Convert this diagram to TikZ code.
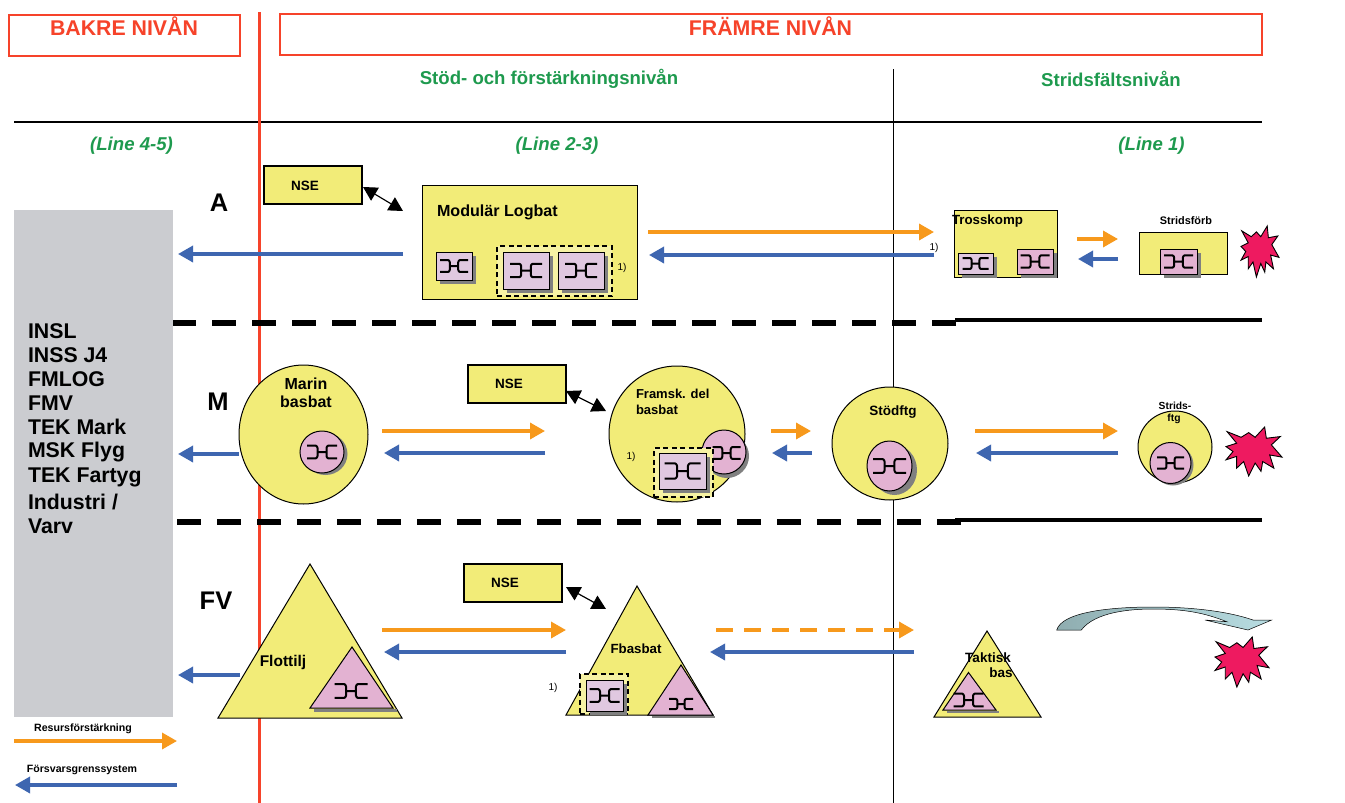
\documentclass[tikz,border=0pt]{standalone}
\usepackage{fontspec}
\setmainfont{Liberation Sans}
\usetikzlibrary{arrows.meta,fit,shapes.geometric}
\definecolor{ylw}{HTML}{F2EC78}
\definecolor{lylw}{HTML}{F6F2A4}
\definecolor{pnk}{HTML}{E3B2D2}
\definecolor{lpnk}{HTML}{E0C8E0}
\definecolor{shd}{HTML}{808080}
\definecolor{org}{HTML}{F7991C}
\definecolor{blu}{HTML}{3E66B0}
\definecolor{redl}{HTML}{F6432A}
\definecolor{grn}{HTML}{1E9A4E}
\definecolor{gry}{HTML}{CBCCD0}
\definecolor{strc}{HTML}{EE1A60}
\definecolor{arl}{HTML}{8FADB0}
\definecolor{arr}{HTML}{B8DDE2}
\tikzset{
  x=1pt,y=-1pt,
  lbl/.style={inner sep=0,outer sep=0,font=\bfseries,align=center},
  flowo/.style={draw=org,line width=3.4pt,-{Triangle[length=15pt,width=16pt]}},
  flowb/.style={draw=blu,line width=3.4pt,-{Triangle[length=15pt,width=16pt]}},
  dbl/.style={draw=black,line width=1.2pt,{Triangle[length=14pt,width=15pt]}-{Triangle[length=14pt,width=15pt]}},
  bx/.style={draw=black,line width=1pt,inner sep=0,outer sep=0},
  ybx/.style={bx,fill=ylw},
  nsebx/.style={bx,line width=1.7pt,fill=ylw},
  hdr/.style={draw=redl,line width=2pt,inner sep=0,fill=white},
  dbx/.style={draw=black,line width=1.6pt,dash pattern=on 5pt off 3.5pt,fill=lylw,inner sep=0},
  circ/.style={ellipse,draw=black,line width=1pt,fill=ylw,inner sep=0,outer sep=0},
  pcirc/.style={ellipse,draw=black,line width=1pt,fill=pnk,inner sep=0,outer sep=0},
  scirc/.style={ellipse,fill=shd,inner sep=0,outer sep=0},
  tri/.style={draw=black,line width=1pt,fill=ylw},
  ptri/.style={draw=black,line width=1pt,fill=pnk},
  sep/.style={draw=black,line width=6pt,dash pattern=on 24pt off 16pt},
  solidsep/.style={draw=black,line width=4.5pt},
  sym/.pic={\draw[black,line width=2pt,rounded corners=.6pt]
    (-1,-.42)--(-.38,-.42)--(-.3,-.3)--(-.3,.3)--(-.38,.42)--(-1,.42)
    (-.3,0)--(.3,0)
    (1,-.42)--(.38,-.42)--(.3,-.3)--(.3,.3)--(.38,.42)--(1,.42);},
  burst/.pic={\draw[black,line width=.9pt,fill=strc,line join=miter]
    (-.96,-.81)--(-.46,-.58)--(-.19,-.77)--(.04,-.58)--(.38,-1)--(.44,-.54)--(.94,-.61)--(.62,-.27)--(1,.23)--(.56,.14)--(.71,.68)--(.31,.41)--(.25,.81)--(.04,.47)--(-.19,1)--(-.37,.41)--(-.62,.68)--(-.62,.2)--(-1,.34)--(-.75,0)--(-1,-.2)--(-.62,-.34)--cycle;}
}
\newcommand{\symbox}[7]{% name x1 y1 x2 y2 fill symbol-half-width
  \fill[shd,shift={(4,4)}] (#2,#3) rectangle (#4,#5);
  \node[bx,fill=#6,fit={(#2,#3)(#4,#5)}] (#1) {};
  \pic[scale=#7] at (#1.center) {sym};
}
\newcommand{\flow}[7]{% name style x1 y1 x2 y2 options
  \coordinate (#1s) at (#3,#4);\coordinate (#1e) at (#5,#6);
  \draw[#2,#7] (#1s) -- (#1e);
}
\newcommand{\fs}[1]{\fontsize{#1}{#1}\selectfont}
\begin{document}
\begin{tikzpicture}
\useasboundingbox (0,0) rectangle (1345,803);
\fill[white] (0,0) rectangle (1345,803);
% header boxes
\node[hdr,fit={(8.5,14.5)(239.5,55.5)}] (hb) {};
\node[hdr,fit={(279.5,13.5)(1261.5,54.5)}] (hf) {};
\node[lbl,text=redl,font=\bfseries\fs{21.3}] (tb) at (124,26.5) {BAKRE NIVÅN};
\node[lbl,text=redl,font=\bfseries\fs{21.3}] (tf) at (770.5,26.5) {FRÄMRE NIVÅN};
\node[lbl,text=grn,font=\bfseries\fs{18.6}] (t1) at (549,78.5) {Stöd- och förstärkningsnivån};
\node[lbl,text=grn,font=\bfseries\fs{18.6}] (t2) at (1111,79) {Stridsfältsnivån};
\node[lbl,text=grn,font=\bfseries\itshape\fs{18.6}] (l1) at (131.5,145.5) {(Line 4-5)};
\node[lbl,text=grn,font=\bfseries\itshape\fs{18.6}] (l2) at (557,145.5) {(Line 2-3)};
\node[lbl,text=grn,font=\bfseries\itshape\fs{18.6}] (l3) at (1151.5,145.5) {(Line 1)};
% rules
\coordinate (r1) at (14,122);\coordinate (r2) at (1262,122);
\draw[black,line width=2.8pt] (r1)--(r2);
\coordinate (v1) at (893,69);\coordinate (v2) at (893,803);
\draw[black,line width=1pt] (v1)--(v2);
\coordinate (rr1) at (259.3,12);\coordinate (rr2) at (259.3,803);
\draw[redl,line width=3.5pt] (rr1)--(rr2);
% separators
\coordinate (s1a) at (172,323);\coordinate (s1b) at (957,323);
\draw[sep] (s1a)--(s1b);
\coordinate (s1c) at (955,320);\coordinate (s1d) at (1262,320);
\draw[solidsep] (s1c)--(s1d);
\coordinate (s2a) at (177,522);\coordinate (s2b) at (961,522);
\draw[sep] (s2a)--(s2b);
\coordinate (s2c) at (955,520);\coordinate (s2d) at (1262,520);
\draw[solidsep] (s2c)--(s2d);
% grey panel
\node[fill=gry,inner sep=0,fit={(14,210)(173,717)}] (panel) {};
\foreach \n/\t/\y in {a/INSL/331,b/INSS J4/355,c/FMLOG/379,d/FMV/403,e/TEK Mark/427,f/MSK Flyg/452,g/TEK Fartyg/477,i/Varv/526}{
  \node[lbl,anchor=west,font=\bfseries\fs{21.3}] (p\n) at (28,\y) {\t};
}
\node[lbl,anchor=west,font=\bfseries\fs{21.3}] (ph) at (28,502) {Industri /};
% row letters
\node[lbl,font=\bfseries\fs{25.5}] (ra) at (219,203) {A};
\node[lbl,font=\bfseries\fs{25.5}] (rm) at (218,402) {M};
\node[lbl,font=\bfseries\fs{25.5}] (rf) at (216,601) {FV};
% NSE boxes
\node[nsebx,fit={(264,166)(362,204)}] (nsea) {};
\node[lbl,font=\bfseries\fs{13.5}] at (305,185.5) {NSE};
\node[nsebx,fit={(468,365)(566,403)}] (nsem) {};
\node[lbl,font=\bfseries\fs{13.5}] at (509,384) {NSE};
\node[nsebx,fit={(464,564)(562,602)}] (nsef) {};
\node[lbl,font=\bfseries\fs{13.5}] at (505,583) {NSE};
% A row
\node[ybx,fit={(422,185)(637,299)}] (logbat) {};
\node[lbl,anchor=west,font=\bfseries\fs{16.1}] at (437,212.5) {Modulär Logbat};
\symbox{la}{436}{252}{472}{280}{lpnk}{14}
\node[dbx,fit={(497,246)(612,296)}] (ld) {};
\symbox{lb}{503}{252}{549}{289}{lpnk}{16}
\symbox{lc}{558}{252}{604}{289}{lpnk}{16}
\node[lbl,font=\fs{10}] at (622,268) {1)};
\node[ybx,fit={(954,210)(1057,277)}] (tross) {};
\node[lbl,anchor=west,font=\bfseries\fs{13.3}] at (952,221) {Trosskomp};
\symbox{ta}{958}{253}{993}{274}{lpnk}{13}
\symbox{tb2}{1017}{249}{1053}{274}{pnk}{14.5}
\node[lbl,font=\fs{10}] at (934,248) {1)};
\node[ybx,fit={(1139,232)(1227,274)}] (forb) {};
\node[lbl,font=\bfseries\fs{10.9}] at (1186,220.5) {Stridsförb};
\symbox{fa}{1160}{249}{1197}{274}{pnk}{14.5}
\pic[xscale=19,yscale=25.5] at (1260,251.5) {burst};
% M row
\node[circ,minimum width=129pt,minimum height=139pt] (marin) at (303.5,434.5) {};
\node[lbl,font=\bfseries\fs{16},align=center] at (306,384) {Marin};
\node[lbl,font=\bfseries\fs{16},align=center] at (306,402) {basbat};
\node[scirc,minimum width=44pt,minimum height=42pt] at (325.5,454) {};
\node[pcirc,minimum width=44pt,minimum height=42pt] (mc) at (322,452) {};
\pic[scale=15] at (mc.center) {sym};
\node[circ,minimum size=136pt] (fram) at (677,434) {};
\node[lbl,anchor=west,font=\bfseries\fs{13}] at (636,394) {Framsk. del};
\node[lbl,anchor=west,font=\bfseries\fs{13}] at (636,410) {basbat};
\node[scirc,minimum size=44pt] at (727,456) {};
\node[pcirc,minimum size=44pt] (fc) at (724,452) {};
\pic[scale=14] at (726.5,453) {sym};
\node[dbx,fit={(654,448)(713,497)}] (fd) {};
\symbox{fb}{659}{453}{706}{489}{lpnk}{18}
\node[lbl,font=\fs{10}] at (631,457) {1)};
\node[circ,minimum width=116pt,minimum height=113pt] (stod) at (890,443.5) {};
\node[lbl,font=\bfseries\fs{13.5}] at (893,412) {Stödftg};
\node[scirc,minimum width=45pt,minimum height=50pt] at (894.5,470) {};
\node[pcirc,minimum width=45pt,minimum height=50pt] (sc) at (889.5,466) {};
\pic[scale=16.5] at (sc.center) {sym};
\node[circ,minimum width=74pt,minimum height=72pt] (strid) at (1175,447) {};
\node[lbl,font=\bfseries\fs{10.3}] at (1175,406) {Strids-};
\node[lbl,font=\bfseries\fs{10.3}] at (1174,419) {ftg};
\node[scirc,minimum size=41pt] at (1173,465) {};
\node[pcirc,minimum size=41pt] (stc) at (1170.5,463) {};
\pic[scale=13.5] at (stc.center) {sym};
\pic[xscale=28,yscale=24.5] at (1254,451.5) {burst};
% FV row
\coordinate (fl1) at (310,564);\coordinate (fl2) at (402,718);\coordinate (fl3) at (218,718);
\draw[tri] (fl1)--(fl2)--(fl3)--cycle;
\node[lbl,font=\bfseries\fs{15.5}] at (283,662) {Flottilj};
\fill[shd] (314,709) rectangle (397,711.5);
\coordinate (fp1) at (352,647);\coordinate (fp2) at (393,708);\coordinate (fp3) at (310,708);
\draw[ptri] (fp1)--(fp2)--(fp3)--cycle;
\pic[scale=16.5] at (351,691) {sym};
\coordinate (fb1) at (637,586);\coordinate (fb2) at (713,715);\coordinate (fb3) at (566,715);
\draw[tri] (fb1)--(fb2)--(fb3)--cycle;
\node[lbl,font=\bfseries\fs{13.3}] at (636,649) {Fbasbat};
\fill[shd] (652,716) rectangle (715,718);
\coordinate (fq1) at (681,665);\coordinate (fq2) at (713,715);\coordinate (fq3) at (648,715);
\draw[ptri] (fq1)--(fq2)--(fq3)--cycle;
\pic[scale=12] at (681,704) {sym};
\node[dbx,fit={(580,674)(628,714)}] (fbd) {};
\symbox{fbb}{586}{680}{623}{711}{lpnk}{15}
\node[lbl,font=\fs{10}] at (553,688) {1)};
\coordinate (tk1) at (987,631);\coordinate (tk2) at (1041,717);\coordinate (tk3) at (934,717);
\draw[tri] (tk1)--(tk2)--(tk3)--cycle;
\fill[shd] (947,711) rectangle (999,713);
\coordinate (tq1) at (968.5,672.5);\coordinate (tq2) at (996,710);\coordinate (tq3) at (943,710);
\draw[ptri] (tq1)--(tq2)--(tq3)--cycle;
\pic[scale=15] at (968.5,700) {sym};
\node[lbl,font=\bfseries\fs{13.5}] at (988,658) {Taktisk};
\node[lbl,font=\bfseries\fs{13.5}] at (1001,673) {bas};
\pic[xscale=27,yscale=25] at (1242,662) {burst};
% curved arrow
\draw[black,line width=.5pt,left color=arl,right color=arr]
 (1056.7,630) .. controls (1062,612) and (1110,607) .. (1153,607)
 .. controls (1195,607) and (1230,612) .. (1253,620)
 -- (1271.7,620) -- (1248,630) -- (1205,620) -- (1226.7,621.7)
 .. controls (1205,613) and (1185,609) .. (1153,609)
 .. controls (1130,609) and (1095,612) .. (1081.3,630) -- cycle;
% flows
\flow{a1}{flowb}{403}{254}{178}{254}{}
\flow{a2}{flowo}{648}{232}{934}{232}{}
\flow{a3}{flowb}{934}{255}{649}{255}{}
\flow{a4}{flowo}{1077}{239}{1118}{239}{}
\flow{a5}{flowb}{1118}{259}{1078}{259}{}
\flow{m1}{flowo}{382}{431}{545}{431}{}
\flow{m2}{flowb}{545}{453}{384}{453}{}
\flow{m3}{flowb}{239}{454}{178}{454}{}
\flow{m4}{flowo}{771}{431}{811}{431}{}
\flow{m5}{flowb}{812}{453}{772}{453}{}
\flow{m6}{flowo}{975}{431}{1118}{431}{}
\flow{m7}{flowb}{1118}{453}{976}{453}{}
\flow{f1}{flowo}{382}{630}{566}{630}{}
\flow{f2}{flowb}{566}{652}{384}{652}{}
\flow{f3}{flowb}{240}{675}{178}{675}{}
\flow{f4}{flowo}{716}{630}{914}{630}{dash pattern=on 16.5pt off 11.5pt}
\flow{f5}{flowb}{914}{652}{710}{652}{}
\flow{g1}{flowo}{14}{741}{177}{741}{}
\flow{g2}{flowb}{177}{785}{15}{785}{}
\flow{d1}{dbl}{363}{187}{403}{211}{}
\flow{d2}{dbl}{566}{391}{606}{411}{}
\flow{d3}{dbl}{566}{587}{606}{609}{}
% legend
\node[lbl,font=\bfseries\fs{10.6}] at (83,729) {Resursförstärkning};
\node[lbl,font=\bfseries\fs{10.6}] at (82,770) {Försvarsgrenssystem};
\end{tikzpicture}
\end{document}
